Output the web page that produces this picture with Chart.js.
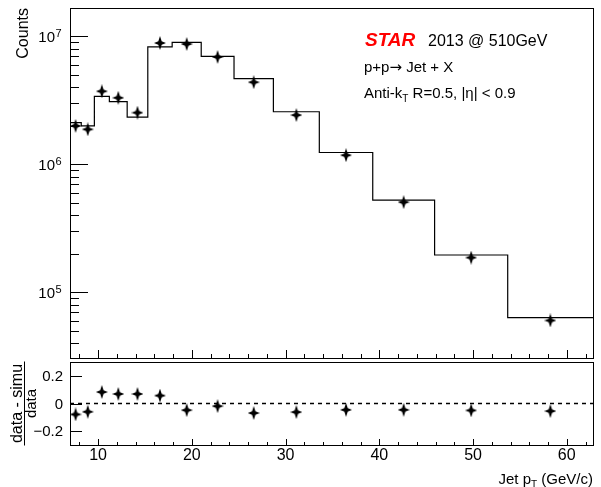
<!DOCTYPE html>
<html>
<head>
<meta charset="utf-8">
<script src="https://cdn.jsdelivr.net/npm/chart.js@4.4.0/dist/chart.umd.min.js"></script>
<style>
  html, body { margin: 0; padding: 0; background: #fff; }
  #wrap { position: relative; width: 601px; height: 487px; }
  #top { position: absolute; left: 0; top: 0; }
  #bottom { position: absolute; left: 0; top: 355px; }
</style>
</head>
<body>
<div id="wrap">
  <canvas id="top" width="601" height="365"></canvas>
  <canvas id="bottom" width="601" height="132"></canvas>
</div>
<script>
// jet pT bins (GeV/c)
const binEdges = [7.0, 8.2, 9.6, 11.2, 13.1, 15.3, 17.9, 21.0, 24.5, 28.7, 33.6, 39.3, 45.9, 53.7, 62.8];
const binCenters = [7.6, 8.9, 10.4, 12.15, 14.2, 16.6, 19.45, 22.75, 26.6, 31.15, 36.45, 42.6, 49.8, 58.25];

// counts
const dataCounts = [2.0e6, 1.88e6, 3.73e6, 3.32e6, 2.54e6, 8.89e6, 8.73e6, 6.92e6, 4.39e6, 2.43e6, 1.18e6, 5.07e5, 1.87e5, 6.03e4];
const simuCounts = [2.12e6, 2.0e6, 3.41e6, 3.1e6, 2.34e6, 8.3e6, 8.98e6, 7.0e6, 4.69e6, 2.58e6, 1.24e6, 5.27e5, 1.96e5, 6.34e4];

// (data - simu) / data
const ratio = [-0.079, -0.06, 0.083, 0.069, 0.069, 0.057, -0.048, -0.019, -0.069, -0.062, -0.046, -0.046, -0.05, -0.055];

// axis labels
const xTickLabels = [10, 20, 30, 40, 50, 60];
const yDecades = [5, 6, 7];
const ratioTicks = [-0.2, 0, 0.2];

const FONT = '"Liberation Sans", Arial, sans-serif';

function makeStar(w, h) {
    const c = document.createElement('canvas');
    c.width = w; c.height = h;
    const g = c.getContext('2d');
    const cx = w / 2, cy = h / 2, k = 1.7;
    g.fillStyle = '#000';
    g.beginPath();
    g.moveTo(cx, 0);
    g.lineTo(cx + k, cy - k);
    g.lineTo(w, cy);
    g.lineTo(cx + k, cy + k);
    g.lineTo(cx, h);
    g.lineTo(cx - k, cy + k);
    g.lineTo(0, cy);
    g.lineTo(cx - k, cy - k);
    g.closePath();
    g.fill();
    return c;
}
const star = makeStar(12, 14);

// draws a list of [text, size, dy, family] pieces starting at x
function drawParts(ctx, parts, x, y) {
    parts.forEach((p) => {
        ctx.font = p[1] + 'px ' + (p[3] || FONT);
        ctx.fillText(p[0], x, y + (p[2] || 0));
        x += ctx.measureText(p[0]).width;
    });
    return x;
}
function partsWidth(ctx, parts) {
    let w = 0;
    parts.forEach((p) => {
        ctx.font = p[1] + 'px ' + (p[3] || FONT);
        w += ctx.measureText(p[0]).width;
    });
    return w;
}

const topDecor = {
    id: 'topDecor',
    afterDraw(chart) {
        const { ctx, chartArea: a, scales: { x, y } } = chart;
        ctx.save();
        ctx.strokeStyle = '#000';
        ctx.fillStyle = '#000';
        ctx.lineWidth = 1;
        ctx.strokeRect(a.left + 0.5, a.top + 0.5, a.right - a.left, a.bottom - a.top);

        ctx.beginPath();
        for (let e = 4; e <= 7; e++) {
            for (let m = 1; m <= 9; m++) {
                const v = m * Math.pow(10, e);
                if (v < y.min || v > y.max) continue;
                const py = Math.round(y.getPixelForValue(v)) + 0.5;
                ctx.moveTo(a.left, py);
                ctx.lineTo(a.left + (m === 1 ? 18 : 9), py);
            }
        }
        for (let v = 8; v <= x.max; v += 2) {
            const px = Math.round(x.getPixelForValue(v)) + 0.5;
            ctx.moveTo(px, a.bottom);
            ctx.lineTo(px, a.bottom - (v % 10 === 0 ? 8 : 4));
        }
        ctx.stroke();

        // 10^n labels
        yDecades.forEach((e) => {
            const py = y.getPixelForValue(Math.pow(10, e));
            ctx.textAlign = 'right';
            ctx.font = '15px ' + FONT;
            ctx.fillText('10', 55, py + 6);
            ctx.textAlign = 'left';
            ctx.font = '11px ' + FONT;
            ctx.fillText(String(e), 55.5, py + 1);
        });

        // y title
        ctx.save();
        ctx.translate(28, a.top);
        ctx.rotate(-Math.PI / 2);
        ctx.textAlign = 'right';
        ctx.font = '16px ' + FONT;
        ctx.fillText('Counts', 0, 0);
        ctx.restore();

        // annotation
        ctx.textAlign = 'left';
        ctx.fillStyle = '#ff0000';
        ctx.font = 'italic bold 19px ' + FONT;
        ctx.fillText('STAR', 365, 46);
        ctx.fillStyle = '#000';
        ctx.font = '16px ' + FONT;
        ctx.fillText('2013 @ 510GeV', 428, 46);
        drawParts(ctx, [['p+p', 15], ['\u2192', 15, 0, '"DejaVu Sans", sans-serif'], [' Jet + X', 15]], 364, 72);
        drawParts(ctx, [['Anti-k', 15], ['T', 10, 4], [' R=0.5, |\u03b7| < 0.9', 15]], 364, 98);
        ctx.restore();
    }
};

const bottomDecor = {
    id: 'bottomDecor',
    afterDraw(chart) {
        const { ctx, chartArea: a, scales: { x, y } } = chart;
        ctx.save();
        ctx.strokeStyle = '#000';
        ctx.fillStyle = '#000';
        ctx.lineWidth = 1;
        ctx.strokeRect(a.left + 0.5, a.top + 0.5, a.right - a.left, a.bottom - a.top);

        ctx.beginPath();
        ratioTicks.forEach((v) => {
            const py = Math.round(y.getPixelForValue(v)) + 0.5;
            ctx.moveTo(a.left, py);
            ctx.lineTo(a.left + 12, py);
        });
        for (let v = 8; v <= x.max; v += 2) {
            const px = Math.round(x.getPixelForValue(v)) + 0.5;
            ctx.moveTo(px, a.bottom);
            ctx.lineTo(px, a.bottom - (v % 10 === 0 ? 6 : 3));
        }
        ctx.stroke();

        ctx.font = '15px ' + FONT;
        ctx.textAlign = 'right';
        ctx.textBaseline = 'middle';
        ratioTicks.forEach((v) => {
            const lbl = v === 0 ? '0' : (v < 0 ? '\u2212' : '') + Math.abs(v).toFixed(1);
            ctx.fillText(lbl, 63, y.getPixelForValue(v) + 1);
        });

        ctx.textBaseline = 'alphabetic';
        ctx.textAlign = 'center';
        ctx.font = '16px ' + FONT;
        xTickLabels.forEach((v) => {
            ctx.fillText(String(v), x.getPixelForValue(v), a.bottom + 15);
        });

        // x title, right aligned
        ctx.textAlign = 'left';
        const xt = [['Jet p', 15], ['T', 10, 4], [' (GeV/c)', 15]];
        drawParts(ctx, xt, a.right - partsWidth(ctx, xt), a.bottom + 39);

        // y title as a fraction
        ctx.save();
        ctx.translate(24, y.getPixelForValue(0));
        ctx.rotate(-Math.PI / 2);
        ctx.textAlign = 'center';
        ctx.font = '16px ' + FONT;
        ctx.fillText('data - simu', 0, -2);
        ctx.font = '15px ' + FONT;
        ctx.fillText('data', 0, 12);
        ctx.beginPath();
        ctx.moveTo(-42, 0.5);
        ctx.lineTo(42, 0.5);
        ctx.stroke();
        ctx.restore();

        ctx.restore();
    }
};

const histPoints = binEdges.map((e, i) => ({ x: e, y: simuCounts[Math.min(i, simuCounts.length - 1)] }));

new Chart(document.getElementById('top'), {
    type: 'scatter',
    data: {
        datasets: [{
            label: 'data',
            data: binCenters.map((c, i) => ({ x: c, y: dataCounts[i] })),
            pointStyle: star,
            pointRadius: 6
        }, {
            label: 'simu',
            data: histPoints,
            showLine: true,
            stepped: 'before',
            borderColor: '#000',
            borderWidth: 1.2,
            pointRadius: 0,
            fill: false
        }]
    },
    options: {
        responsive: false,
        animation: false,
        events: [],
        layout: { padding: { left: 70, top: 8, right: 8, bottom: 5 } },
        plugins: { legend: { display: false }, tooltip: { enabled: false } },
        scales: {
            x: { type: 'linear', min: binEdges[0], max: binEdges[binEdges.length - 1], display: false },
            y: { type: 'logarithmic', min: 3.07e4, max: 1.67e7, display: false }
        }
    },
    plugins: [topDecor]
});

new Chart(document.getElementById('bottom'), {
    type: 'scatter',
    data: {
        datasets: [{
            label: 'ratio',
            data: binCenters.map((c, i) => ({ x: c, y: ratio[i] })),
            pointStyle: star,
            pointRadius: 6
        }, {
            label: 'zero',
            data: [{ x: binEdges[0], y: 0 }, { x: binEdges[binEdges.length - 1], y: 0 }],
            showLine: true,
            borderColor: '#000',
            borderWidth: 1.5,
            borderDash: [4, 4],
            pointRadius: 0
        }]
    },
    options: {
        responsive: false,
        animation: false,
        events: [],
        layout: { padding: { left: 70, top: 6, right: 8, bottom: 42 } },
        plugins: { legend: { display: false }, tooltip: { enabled: false } },
        scales: {
            x: { type: 'linear', min: binEdges[0], max: binEdges[binEdges.length - 1], display: false },
            y: { type: 'linear', min: -0.3, max: 0.3, display: false }
        }
    },
    plugins: [bottomDecor]
});
</script>
</body>
</html>
